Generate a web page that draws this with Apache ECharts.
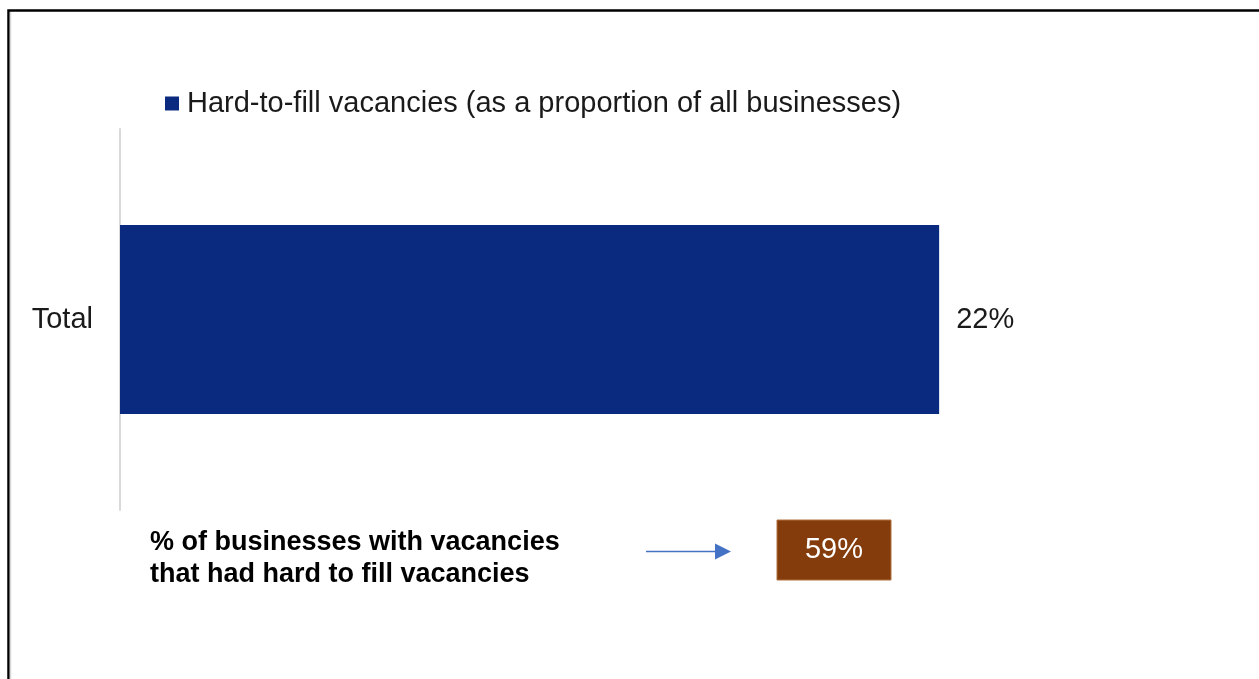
<!DOCTYPE html>
<html>
<head>
<meta charset="utf-8">
<script src="https://cdn.jsdelivr.net/npm/echarts@6/dist/echarts.min.js"></script>
<style>
  html, body { margin: 0; padding: 0; background: #fff; }
  #chart { width: 1259px; height: 679px; }
</style>
</head>
<body>
<div id="chart"></div>
<script>
// Chart data
const categories = ['Total'];
const seriesName = 'Hard-to-fill vacancies (as a proportion of all businesses)';
const hardToFill = [22];
const calloutText = ['% of businesses with vacancies', 'that had hard to fill vacancies'];
const calloutValue = [59];

const FONT = '"Liberation Sans", Arial, sans-serif';

const chart = echarts.init(document.getElementById('chart'));

chart.setOption({
  animation: false,
  backgroundColor: '#ffffff',
  legend: {
    data: [seriesName],
    left: 160,
    top: 84,
    itemWidth: 14,
    itemHeight: 14,
    itemGap: 8,
    icon: 'rect',
    textStyle: { fontFamily: FONT, fontSize: 29, color: '#1a1a1a', padding: [0, 0, 0, 3] }
  },
  grid: { left: 120, right: 1259 - 120 - 1117, top: 129, bottom: 679 - 510 },
  xAxis: {
    type: 'value',
    min: 0,
    max: 30,
    show: false,
    splitLine: { show: false }
  },
  yAxis: {
    type: 'category',
    data: categories,
    axisLine: { show: true, lineStyle: { color: '#d9d9d9', width: 2 } },
    axisTick: { show: false },
    axisLabel: { fontFamily: FONT, fontSize: 29, color: '#1a1a1a', margin: 27 }
  },
  series: [{
    name: seriesName,
    type: 'bar',
    data: hardToFill,
    barWidth: '49.6%',
    itemStyle: { color: '#0a2a7f' },
    label: {
      show: true,
      position: 'right',
      distance: 17,
      formatter: '{c}%',
      fontFamily: FONT,
      fontSize: 29,
      color: '#1a1a1a'
    }
  }],
  graphic: [
    // outer frame
    {
      type: 'rect',
      shape: { x: 8.5, y: 10.5, width: 1400, height: 900 },
      style: { fill: 'none', stroke: '#000', lineWidth: 2.5 },
      silent: true, z: 10
    },
    {
      type: 'line',
      shape: { x1: 10.5, y1: 12, x2: 10.5, y2: 679 },
      style: { stroke: '#d8d8d8', lineWidth: 1.5 },
      silent: true, z: 10
    },
    {
      type: 'text',
      left: 150,
      top: 527,
      style: {
        text: calloutText.join('\n'),
        fontFamily: FONT,
        fontSize: 27,
        fontWeight: 'bold',
        lineHeight: 32,
        fill: '#000'
      }
    },
    {
      type: 'line',
      shape: { x1: 646, y1: 551.5, x2: 718, y2: 551.5 },
      style: { stroke: '#4472c4', lineWidth: 1.5 }
    },
    {
      type: 'polygon',
      shape: { points: [[715, 543.5], [731, 551.5], [715, 559.5]] },
      style: { fill: '#4472c4' }
    },
    {
      type: 'rect',
      shape: { x: 777, y: 520, width: 114, height: 60 },
      style: { fill: '#843c0c', stroke: '#b0703f', lineWidth: 1 }
    },
    {
      type: 'text',
      x: 834,
      y: 550,
      style: {
        text: calloutValue[0] + '%',
        fontFamily: FONT,
        fontSize: 29,
        fill: '#ffffff',
        align: 'center',
        verticalAlign: 'middle'
      }
    }
  ]
});
</script>
</body>
</html>
